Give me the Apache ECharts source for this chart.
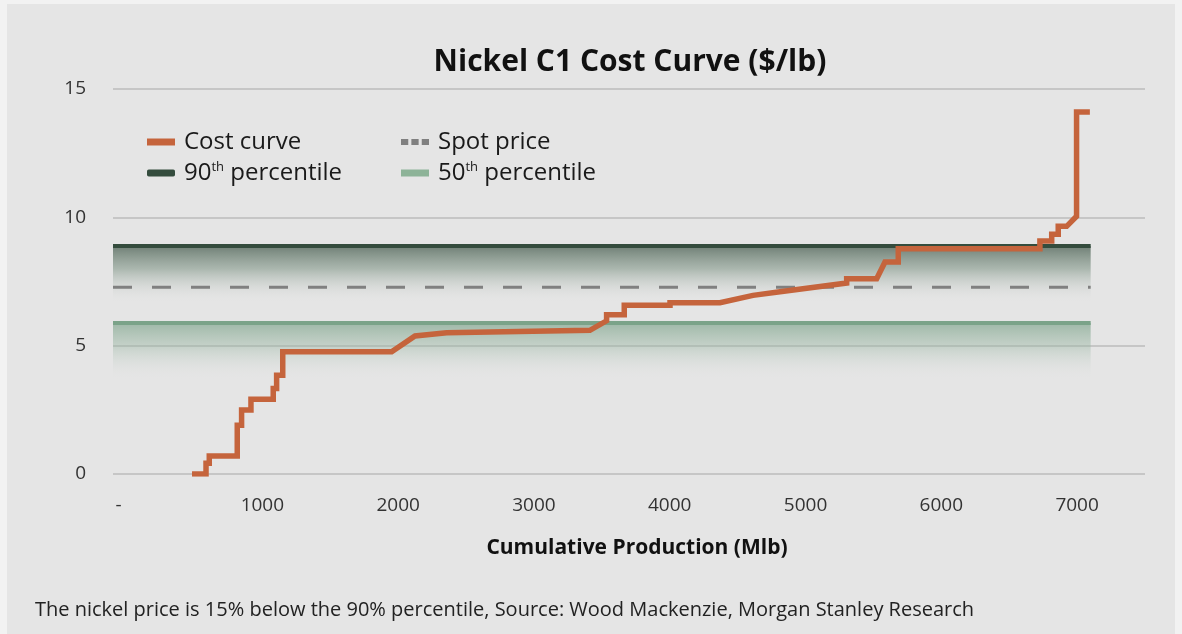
<!DOCTYPE html>
<html>
<head>
<meta charset="utf-8">
<script src="https://cdn.jsdelivr.net/npm/echarts@6/dist/echarts.min.js"></script>
<style>
  html, body { margin: 0; padding: 0; background: #f2f2f2; }
  .pageBox { position: relative; width: 1182px; height: 634px; background: #f2f2f2; }
  #costChart { position: absolute; left: 7px; top: 4px; width: 1168px; height: 630px; background: #e5e5e5; }
</style>
</head>
<body>
<div class="pageBox">
  <div id="costChart"></div>
</div>
<script>
// cumulative production (Mlb) and C1 cost ($/lb)
var costX = [482, 585, 585, 609, 609, 815, 815, 847, 847, 916, 916, 1080, 1080, 1105, 1105, 1150, 1150,
  1952, 2124, 2357, 3412, 3535, 3535, 3665, 3665, 4002, 4002, 4370, 4613, 4812, 5303, 5303, 5524,
  5585, 5683, 5683, 6726, 6726, 6813, 6813, 6861, 6861, 6923, 6996, 6996, 7094];
var costY = [0, 0, 0.42, 0.42, 0.7, 0.7, 1.9, 1.9, 2.49, 2.49, 2.91, 2.91, 3.33, 3.33, 3.85, 3.85, 4.76,
  4.76, 5.38, 5.5, 5.6, 5.97, 6.2, 6.2, 6.57, 6.57, 6.67, 6.67, 6.96, 7.1, 7.44, 7.61, 7.61,
  8.26, 8.26, 8.78, 8.78, 9.08, 9.08, 9.34, 9.34, 9.65, 9.65, 10.04, 14.1, 14.1];

var bandX = [-100, 7100];       // span of the percentile bands
var p90Level = 8.88;
var spotLevel = 7.28;
var p50Level = 5.88;

var xTicks = [0, 1000, 2000, 3000, 4000, 5000, 6000, 7000];

var fontName = "Open Sans";

function flat(level) {
  return bandX.map(function (x) { return [x, level]; });
}

function legendText(left, names) {
  return {
    orient: "vertical",
    left: left,
    top: 121,
    itemWidth: 28,
    itemHeight: 7,
    itemGap: 7,
    textStyle: {
      fontSize: 24,
      color: "#1a1a1a",
      padding: [0, 0, 0, 4],
      rich: {
        n: { fontSize: 24, color: "#1a1a1a" },
        s: { fontSize: 13, color: "#1a1a1a", verticalAlign: "top", padding: [0, 0, 10, 0] },
      },
    },
    formatter: function (name) {
      // superscript "th"
      var m = name.match(/^(\d+)th (.*)$/);
      if (m) return "{n|" + m[1] + "}{s|th}{n| " + m[2] + "}";
      return name;
    },
    data: names,
  };
}

var costChart = echarts.init(document.getElementById("costChart"));

costChart.setOption({
  backgroundColor: "#e5e5e5",
  textStyle: { fontFamily: fontName },
  graphic: [
    {
      type: "text",
      x: 623,
      y: 58,
      style: {
        text: "Nickel C1 Cost Curve ($/lb)",
        fontFamily: fontName,
        fontSize: 30,
        fontWeight: "bold",
        fill: "#111",
        align: "center",
        verticalAlign: "middle",
      },
    },
    {
      type: "text",
      x: 28,
      y: 606,
      style: {
        text: "The nickel price is 15% below the 90% percentile, Source: Wood Mackenzie, Morgan Stanley Research",
        fontFamily: fontName,
        fontSize: 20,
        fill: "#222",
        verticalAlign: "middle",
      },
    },
  ],
  legend: [
    legendText(135, [
      { name: "Cost curve", icon: "rect", itemStyle: { color: "#c5643c", borderWidth: 0 } },
      { name: "90th percentile", icon: "roundRect", itemStyle: { color: "#344c3d", borderWidth: 0 } },
    ]),
    legendText(389, [
      {
        name: "Spot price",
        icon: "path://M0,0H7V6H0Z M10,0H17V6H10Z M20,0H27V6H20Z",
        itemStyle: { color: "#808080", borderWidth: 0 },
      },
      { name: "50th percentile", icon: "rect", itemStyle: { color: "#8db398", borderWidth: 0 } },
    ]),
  ],
  grid: { left: 106, right: 30, top: 85, bottom: 160 },
  xAxis: {
    type: "value",
    min: -100,
    max: 7500,
    name: "Cumulative Production (Mlb)",
    nameLocation: "middle",
    nameGap: 64,
    nameTextStyle: { fontSize: 21, fontWeight: "bold", color: "#111", padding: [0, 0, 0, 16] },
    axisLine: { show: false },
    axisTick: { show: false },
    splitLine: { show: false },
    axisLabel: {
      customValues: xTicks,
      fontSize: 19,
      color: "#333",
      margin: 22,
      rich: { d: { fontSize: 19, color: "#333", padding: [0, 16, 0, 0] } },
      formatter: function (v) { return v === 0 ? "{d|-}" : String(v); },
    },
  },
  yAxis: {
    type: "value",
    min: 0,
    max: 15,
    interval: 5,
    axisLine: { show: false },
    axisTick: { show: false },
    axisLabel: { fontSize: 19, color: "#333", margin: 27 },
    splitLine: { lineStyle: { color: "#c6c6c6", width: 2 } },
  },
  series: [
    {
      name: "50th percentile",
      type: "line",
      data: flat(p50Level),
      showSymbol: false,
      silent: true,
      itemStyle: { color: "#8db398" },
      lineStyle: { color: "#7ba389", width: 4 },
      areaStyle: {
        color: {
          type: "linear", x: 0, y: 0, x2: 0, y2: 1,
          colorStops: [
            { offset: 0, color: "rgba(120,160,134,0.92)" },
            { offset: 0.15, color: "rgba(150,180,160,0.6)" },
            { offset: 0.38, color: "rgba(229,229,229,0)" },
            { offset: 1, color: "rgba(229,229,229,0)" },
          ],
        },
      },
      z: 1,
    },
    {
      name: "90th percentile",
      type: "line",
      data: flat(p90Level),
      showSymbol: false,
      silent: true,
      itemStyle: { color: "#344c3d" },
      lineStyle: { color: "#344c3d", width: 4 },
      areaStyle: {
        color: {
          type: "linear", x: 0, y: 0, x2: 0, y2: 1,
          colorStops: [
            { offset: 0, color: "rgba(52,76,61,0.95)" },
            { offset: 0.1, color: "rgba(110,135,118,0.7)" },
            { offset: 0.25, color: "rgba(229,229,229,0)" },
            { offset: 1, color: "rgba(229,229,229,0)" },
          ],
        },
      },
      z: 1,
    },
    {
      name: "Spot price",
      type: "line",
      data: flat(spotLevel),
      showSymbol: false,
      silent: true,
      itemStyle: { color: "#808080" },
      lineStyle: { color: "#808080", width: 3, type: [19, 20] },
      z: 2,
    },
    {
      name: "Cost curve",
      type: "line",
      data: costX.map(function (x, i) { return [x, costY[i]]; }),
      showSymbol: false,
      itemStyle: { color: "#c5643c" },
      lineStyle: { color: "#c5643c", width: 5.5, join: "miter", cap: "butt" },
      z: 3,
    },
  ],
});
</script>
</body>
</html>
